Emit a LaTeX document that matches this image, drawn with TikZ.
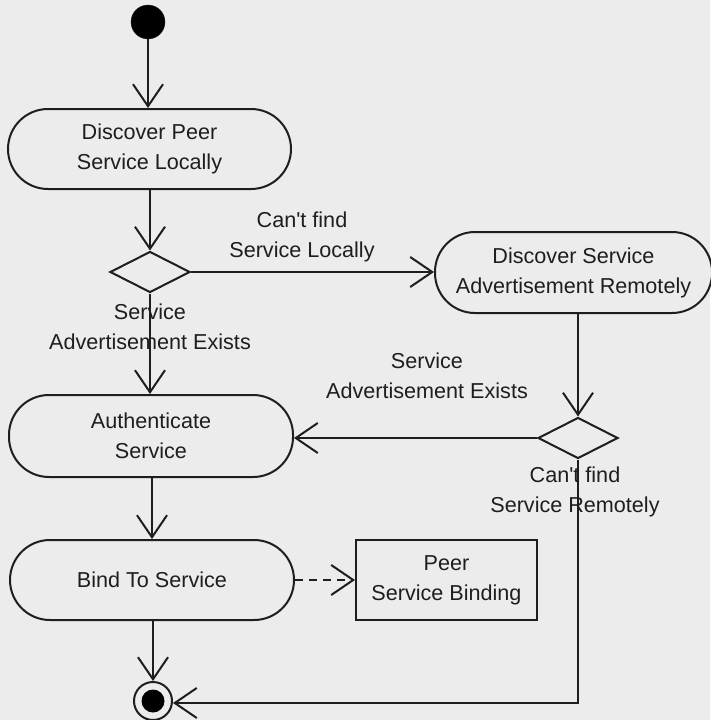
\documentclass[tikz,border=0pt]{standalone}
\usepackage{fontspec}
\setmainfont{Liberation Sans}[Ligatures=TeXOff]
\usetikzlibrary{arrows.meta,shapes.geometric}
\definecolor{paper}{RGB}{236,236,236}
\definecolor{ink}{RGB}{30,30,30}
\definecolor{txt}{RGB}{30,30,30}
\begin{document}
\begin{tikzpicture}[x=1pt,y=-1pt,
  every node/.style={text=txt,font=\fontsize{21.6}{30}\selectfont},
  pill/.style={draw=ink,line width=2pt,rounded corners=40pt,align=center,inner sep=0pt},
  objbox/.style={draw=ink,line width=2pt,align=center,inner sep=0pt,minimum width=181pt,minimum height=80pt},
  choice/.style={draw=ink,line width=2pt,diamond,inner sep=0pt,minimum width=80pt,minimum height=41pt},
  lbl/.style={align=center,inner sep=0pt},
  flow/.style={draw=ink,line width=2pt,-{Straight Barb[length=22pt,width=30pt,line width=2pt]}},
  depend/.style={flow,dash pattern=on 8pt off 6pt}]
\useasboundingbox[fill=paper] (0,0) rectangle (710,720);

% activities
\node[pill,minimum width=283pt,minimum height=80pt] (dl) at (149.5,149) {Discover Peer\\Service Locally};
\node[pill,minimum width=277pt,minimum height=81pt] (dr) at (573.5,272.5) {Discover Service\\Advertisement Remotely};
\node[pill,minimum width=284pt,minimum height=82pt] (auth) at (151,436) {Authenticate\\Service};
\node[pill,minimum width=284pt,minimum height=80pt] (bind) at (152,580) {Bind To Service};
\node[objbox] (psb) at (446.5,580) {Peer\\Service Binding};

% decisions
\node[choice] (d1) at (150,272) {};
\node[choice] (d2) at (578,438) {};

% start and end
\node[circle,fill=black,draw=ink,inner sep=0pt,minimum size=34pt] (start) at (148,22) {};
\node[circle,draw=ink,line width=2pt,inner sep=0pt,minimum size=38pt] (final) at (153,701) {};
\fill[black] (final.center) circle (11.5pt);
\coordinate (corner) at (578,703);

% guard labels
\node[lbl] (g1) at (302,237) {Can't find\\Service Locally};
\node[lbl] (g2) at (150,327) {Service\\Advertisement Exists};
\node[lbl] (g3) at (427,376) {Service\\Advertisement Exists};
\node[lbl] (g4) at (575,492) {Can't find\\Service Remotely};

% transitions
\draw[flow] (start) -- (start |- dl.north);
\draw[flow] (dl.south -| d1.north) -- (d1.north);
\draw[flow] (d1.east) -- (d1.east -| dr.west);
\draw[flow] (d1.south) -- (d1.south |- auth.north);
\draw[flow] (d2.north |- dr.south) -- (d2.north);
\draw[flow] (d2.west) -- (d2.west -| auth.east);
\draw[flow] (auth.south -| bind.north) -- (bind.north);
\draw[depend] (bind.east) -- (psb.west);
\draw[flow] (bind.south -| final.north) -- (final.north);
\draw[flow] (d2.south) -- (corner) -- (corner -| final.east);
\end{tikzpicture}
\end{document}
